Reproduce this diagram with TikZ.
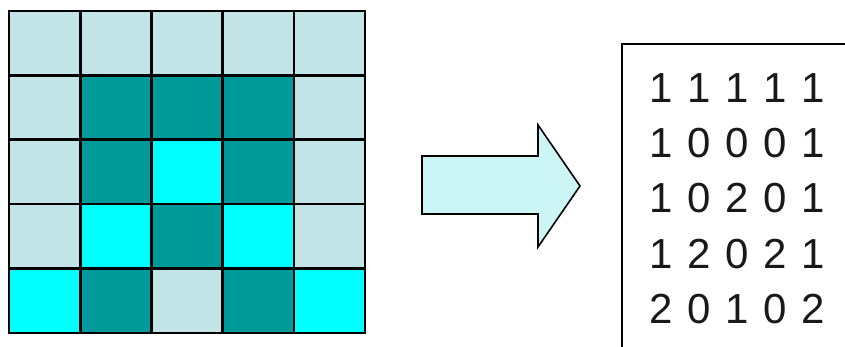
\documentclass[tikz,border=0pt]{standalone}
\usepackage{fontspec}
\setmainfont{Liberation Sans}
\definecolor{lightc}{HTML}{C2E4E6}
\definecolor{darkc}{HTML}{009A9A}
\definecolor{brightc}{HTML}{00FFFF}
\definecolor{arrowc}{HTML}{CCF6F6}
\begin{document}
\begin{tikzpicture}[x=1pt,y=-1pt,
  cell/.style={draw=black,line width=2.6pt,minimum width=71.2pt,minimum height=64.4pt,inner sep=0pt,outer sep=0pt,anchor=north west},
  L/.style={cell,fill=lightc},
  D/.style={cell,fill=darkc},
  C/.style={cell,fill=brightc},
  digit/.style={anchor=base,inner sep=0pt,font=\fontsize{42}{50}\selectfont,text=black!90}]
\useasboundingbox (0,0) rectangle (845,347);
\clip (0,0) rectangle (845,347);
\fill[white] (0,0) rectangle (845,347);
% grid
\foreach \row [count=\r from 0] in {{L,L,L,L,L},{L,D,D,D,L},{L,D,C,D,L},{L,C,D,C,L},{C,D,L,D,C}}{
  \foreach \t [count=\c from 0] in \row {
    \node[\t] (cell-\r-\c) at ({9+71.2*\c},{11+64.4*\r}) {};
  }
}
% arrow
\draw[line width=1.6pt,fill=arrowc,line join=miter]
  (422,156) -- (538,156) -- (538,125) -- (580,186) -- (538,247) -- (538,214) -- (422,214) -- cycle;
% matrix box
\node[draw=black,line width=2.2pt,anchor=north west,minimum width=260pt,minimum height=330pt,inner sep=0pt] (box) at (621,43) {};
% digits
\foreach \line [count=\r from 0] in {{1,1,1,1,1},{1,0,0,0,1},{1,0,2,0,1},{1,2,0,2,1},{2,0,1,0,2}}{
  \foreach \d [count=\c from 0] in \line {
    \node[digit] (d-\r-\c) at ({661+38*\c},{102.7+55.1*\r}) {\d};
  }
}
\end{tikzpicture}
\end{document}
